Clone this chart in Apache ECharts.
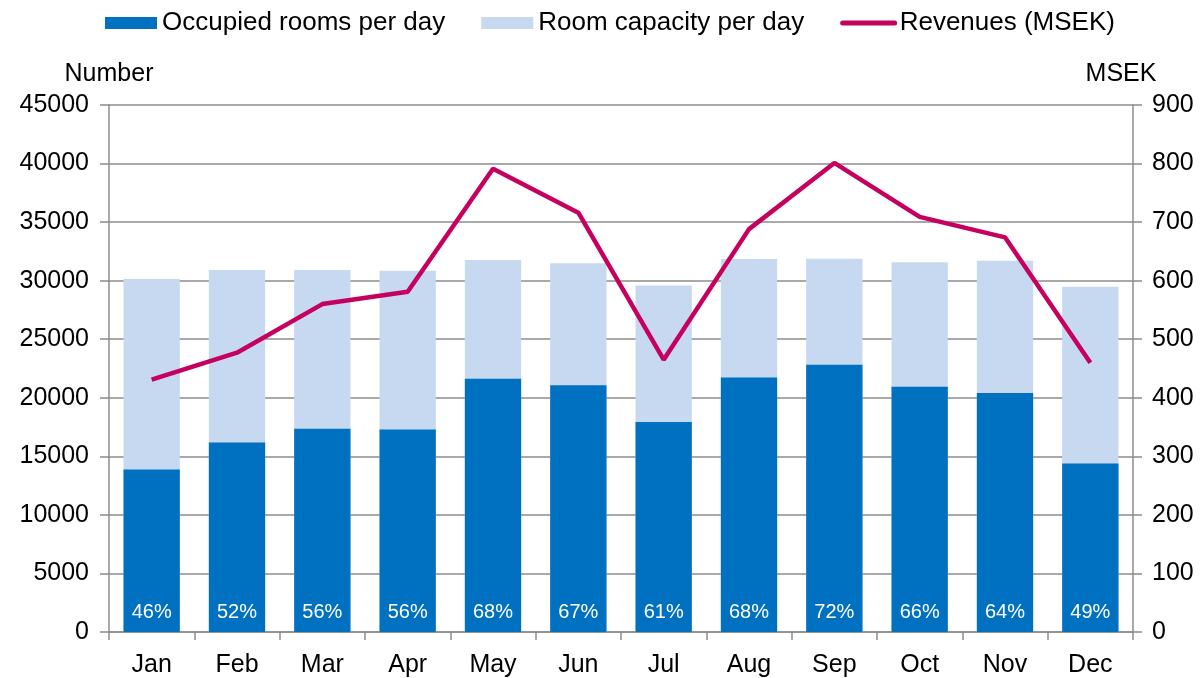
<!DOCTYPE html>
<html>
<head>
<meta charset="utf-8">
<title>Occupancy and revenues</title>
<script src="https://cdn.jsdelivr.net/npm/echarts@6/dist/echarts.min.js"></script>
<style>
    html,body{margin:0;padding:0;background:#fff;}
    #chart{width:1203px;height:678px;}
</style>
</head>
<body>
<div id="chart"></div>
<script>
    var months = ['Jan', 'Feb', 'Mar', 'Apr', 'May', 'Jun', 'Jul', 'Aug', 'Sep', 'Oct', 'Nov', 'Dec'];
    var occupied = [13880, 16180, 17350, 17290, 21630, 21060, 17940, 21740, 22820, 20950, 20410, 14390];
    var capacity = [30150, 30910, 30910, 30850, 31760, 31480, 29580, 31850, 31880, 31570, 31710, 29470];
    var revenues = [431, 477, 560, 581, 791, 716, 465, 688, 801, 709, 674, 460];
    var occupancy = ['46%', '52%', '56%', '56%', '68%', '67%', '61%', '68%', '72%', '66%', '64%', '49%'];

    var font = 'Liberation Sans, Arial, sans-serif';
    var grey = '#8c8c8c';

    function plain(v) {
        return String(v);
    }

    var myChart = echarts.init(document.getElementById('chart'));
    var option = {
        animation: false,
        textStyle: {fontFamily: font},
        legend: {
            top: 5,
            left: 100,
            itemWidth: 52,
            itemHeight: 12,
            itemGap: 36,
            textStyle: {fontSize: 26, color: '#000', fontFamily: font},
            data: [
                {name: 'Occupied rooms per day', icon: 'rect'},
                {name: 'Room capacity per day', icon: 'rect'},
                {name: 'Revenues (MSEK)', itemStyle: {opacity: 0}, lineStyle: {width: 5, cap: 'round'}}
            ]
        },
        grid: {
            left: 109,
            right: 70,
            top: 105,
            bottom: 45
        },
        xAxis: {
            type: 'category',
            data: months,
            axisLine: {lineStyle: {color: grey, width: 1.5}},
            axisTick: {show: true, length: 8, lineStyle: {color: grey, width: 1.5}},
            axisLabel: {fontSize: 25, color: '#000', margin: 21, fontFamily: font}
        },
        yAxis: [
            {
                type: 'value',
                min: 0,
                max: 45000,
                interval: 5000,
                name: 'Number',
                nameGap: 18,
                nameTextStyle: {fontSize: 25, color: '#000', fontFamily: font, align: 'center'},
                axisLine: {show: true, lineStyle: {color: grey, width: 1.5}},
                axisTick: {show: true, length: 9, lineStyle: {color: grey, width: 1.5}},
                axisLabel: {fontSize: 25, color: '#000', margin: 20, fontFamily: font, formatter: plain},
                splitLine: {lineStyle: {color: grey, width: 1.5}}
            },
            {
                type: 'value',
                min: 0,
                max: 900,
                interval: 100,
                name: 'MSEK',
                nameGap: 18,
                nameTextStyle: {fontSize: 25, color: '#000', fontFamily: font, align: 'center', padding: [0, 24, 0, 0]},
                axisLine: {show: true, lineStyle: {color: grey, width: 1.5}},
                axisTick: {show: true, length: 9, lineStyle: {color: grey, width: 1.5}},
                axisLabel: {fontSize: 25, color: '#000', margin: 19, fontFamily: font, formatter: plain},
                splitLine: {show: false}
            }
        ],
        series: [
            {
                name: 'Room capacity per day',
                type: 'bar',
                data: capacity,
                barWidth: '66%',
                itemStyle: {color: '#c6d9f0'}
            },
            {
                name: 'Occupied rooms per day',
                type: 'bar',
                data: occupied,
                barWidth: '66%',
                barGap: '-100%',
                itemStyle: {color: '#0070c0'},
                label: {
                    show: true,
                    position: 'insideBottom',
                    distance: 10,
                    color: '#fff',
                    fontSize: 20,
                    fontFamily: font,
                    formatter: function (p) {
                        return occupancy[p.dataIndex];
                    }
                }
            },
            {
                name: 'Revenues (MSEK)',
                type: 'line',
                yAxisIndex: 1,
                data: revenues,
                symbol: 'none',
                lineStyle: {color: '#c6005e', width: 4.5},
                itemStyle: {color: '#c6005e'},
                z: 5
            }
        ]
    };
    myChart.setOption(option);
</script>
</body>
</html>
